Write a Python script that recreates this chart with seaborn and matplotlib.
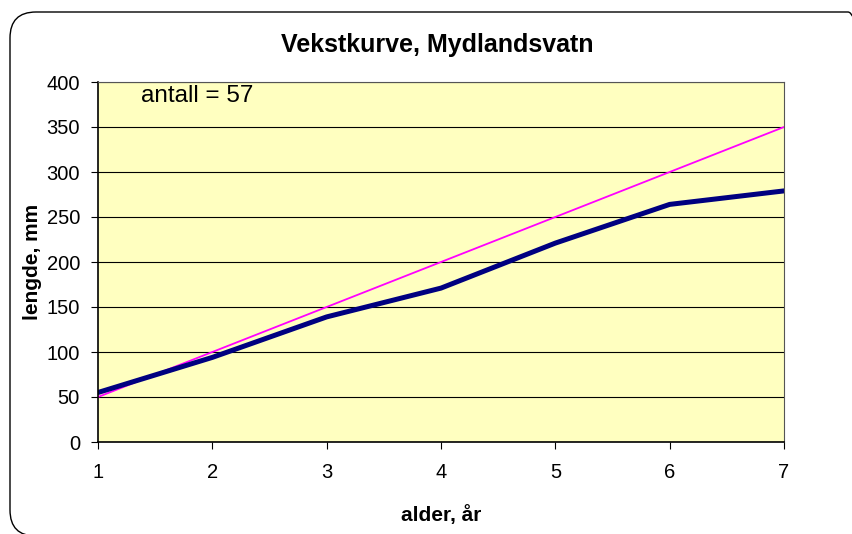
import pandas as pd
import seaborn as sns
import matplotlib.pyplot as plt
from matplotlib.patches import FancyBboxPatch

# Data
alder = [1, 2, 3, 4, 5, 6, 7]
lengde = [55, 94, 139, 171, 221, 264, 279]
referanse = [50, 100, 150, 200, 250, 300, 350]

df = pd.DataFrame({'alder': alder, 'lengde': lengde, 'referanse': referanse})

sns.set_style("white")
plt.rcParams['font.family'] = ['Liberation Sans', 'DejaVu Sans']
plt.rcParams['text.color'] = 'black'
plt.rcParams['axes.labelcolor'] = 'black'
plt.rcParams['xtick.color'] = 'black'
plt.rcParams['ytick.color'] = 'black'

fig = plt.figure(figsize=(8.53, 5.34), dpi=100)
ax = fig.add_axes([98 / 853, 1 - 442 / 534, 686 / 853, 360 / 534])

# Rounded outer frame, in pixels (display coords)
frame = FancyBboxPatch((10, -2), 864, 524,
                       boxstyle="round,pad=0,rounding_size=26",
                       transform=None, fill=False,
                       edgecolor='black', linewidth=1.0)
fig.patches.append(frame)

ax.set_facecolor('#FFFFC0')
sns.lineplot(x='alder', y='referanse', data=df, ax=ax, color='#FF00FF', linewidth=1.3)
sns.lineplot(x='alder', y='lengde', data=df, ax=ax, color='#000080', linewidth=3.6)

ax.set_xlim(1, 7)
ax.set_ylim(0, 400)
ax.set_xticks(alder)
ax.set_yticks(range(0, 401, 50))
ax.yaxis.grid(True, color='black', linewidth=0.8)
ax.set_axisbelow(True)
ax.tick_params(axis='both', labelsize=14.5, direction='out', length=5, width=0.8,
               color='black', labelcolor='black', bottom=True, left=True, pad=8)
ax.tick_params(axis='x', pad=10)
for side in ['left', 'bottom']:
    ax.spines[side].set_color('black')
    ax.spines[side].set_linewidth(1.2)
for side in ['top', 'right']:
    ax.spines[side].set_color('#555555')
    ax.spines[side].set_linewidth(0.8)

ax.set_xlabel('alder, år', fontsize=15, fontweight='bold', color='black')
ax.xaxis.label.set_va('center')
ax.xaxis.set_label_coords(0.5, -73 / 360)
ax.set_ylabel('lengde, mm', fontsize=15, fontweight='bold', color='black')
ax.yaxis.label.set_va('center')
ax.yaxis.set_label_coords(-65 / 686, 0.5)

fig.text(437 / 853, 1 - 45 / 534, 'Vekstkurve, Mydlandsvatn', ha='center', va='center',
         fontsize=18, fontweight='bold', color='black')
ax.text(1.38, 385, 'antall = 57', fontsize=17.5, va='center', ha='left', color='black')

fig.savefig('out.png', dpi=100)
